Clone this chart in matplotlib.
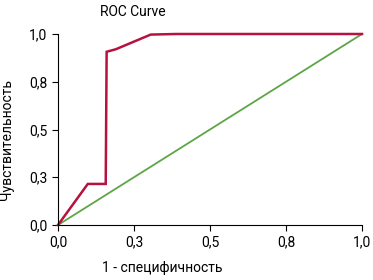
import matplotlib
matplotlib.use("Agg")
import matplotlib.pyplot as plt
from matplotlib import font_manager

names = {f.name for f in font_manager.fontManager.ttflist}
fam = "Liberation Sans Narrow" if "Liberation Sans Narrow" in names else "Roboto"
plt.rcParams['font.family'] = [fam, 'DejaVu Sans']

fpr = [0.0, 0.098, 0.157, 0.160, 0.19, 0.305, 0.39, 1.0]
tpr = [0.0, 0.215, 0.215, 0.907, 0.92, 0.997, 1.0, 1.0]
ref_x = [0.0, 1.0]
ref_y = [0.0, 1.0]
ticks = [0.0, 0.25, 0.5, 0.75, 1.0]
tick_labels = ["0,0", "0,3", "0,5", "0,8", "1,0"]

fig = plt.figure(figsize=(3.73, 2.80), dpi=100)
ax = fig.add_axes([58/373, 1-225/280, 304/373, 191/280])
ax.plot(ref_x, ref_y, color="#5da645", lw=1.3, clip_on=False)
ax.plot(fpr, tpr, color="#b5123f", lw=1.8, clip_on=False, solid_joinstyle="miter")
ax.set_xlim(0, 1)
ax.set_ylim(0, 1)
ax.set_xticks(ticks)
ax.set_xticklabels(tick_labels)
ax.set_yticks(ticks)
ax.set_yticklabels(tick_labels)
for s in ["top", "right"]:
    ax.spines[s].set_visible(False)
ax.tick_params(labelsize=10, length=4, width=0.8)
ax.spines["left"].set_position(("outward", 0))
fig.text(133/373, 1-12/280, "ROC Curve", ha="center", va="center", fontsize=10)
fig.text(162/373, 1-268/280, "1 - специфичность", ha="center", va="center", fontsize=10)
fig.text(7/373, 1-140/280, "Чувствительность", ha="center", va="center", rotation=90, fontsize=10)
fig.savefig("out.png", dpi=100)
